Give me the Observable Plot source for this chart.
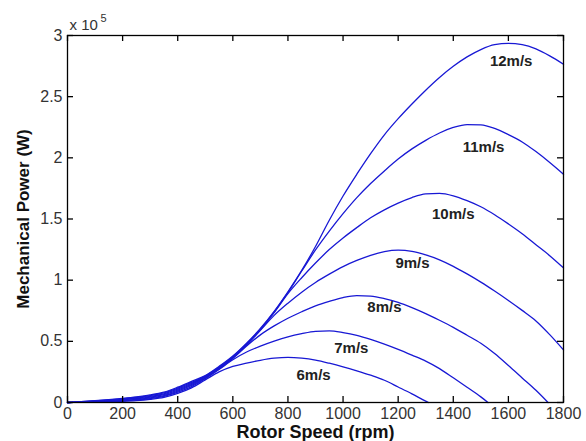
<!DOCTYPE html>
<html><head><meta charset="utf-8">
<script src="https://cdn.jsdelivr.net/npm/d3@7"></script>
<script src="https://cdn.jsdelivr.net/npm/@observablehq/plot@0.6"></script>
<style>html,body{margin:0;padding:0;background:#fff}svg{display:block}</style>
</head><body><div id="chart"></div>
<script>
// Wind speeds (series) and curve labels
const speeds = ["6m/s", "7m/s", "8m/s", "9m/s", "10m/s", "11m/s", "12m/s"];
// Rotor speed grid (rpm)
const rpm = [0, 50, 100, 150, 200, 250, 300, 350, 400, 450, 500, 550, 600, 650, 700, 750, 800, 850, 900, 950,
  1000, 1050, 1100, 1150, 1200, 1250, 1300, 1350, 1400, 1450, 1500, 1550, 1600, 1650, 1700, 1750, 1800];
// Mechanical power (x 10^5 W) per wind speed (null = curve has ended)
const p6 = [0, 0.001, 0.003, 0.006, 0.010, 0.016, 0.026, 0.042, 0.075, 0.12, 0.185, 0.25, 0.295, 0.322, 0.345, 0.362, 0.369, 0.362, 0.346, 0.321,
  0.292, 0.259, 0.223, 0.182, 0.127, 0.071, 0.011, null, null, null, null, null, null, null, null, null, null];
const p7 = [0, 0.002, 0.005, 0.009, 0.014, 0.021, 0.032, 0.050, 0.085, 0.13, 0.195, 0.27, 0.35, 0.413, 0.461, 0.502, 0.537, 0.563, 0.582, 0.586,
  0.572, 0.549, 0.516, 0.477, 0.434, 0.387, 0.338, 0.277, 0.202, 0.125, 0.046, null, null, null, null, null, null];
const p8 = [0, 0.003, 0.007, 0.012, 0.018, 0.026, 0.038, 0.057, 0.093, 0.14, 0.20, 0.275, 0.36, 0.462, 0.553, 0.626, 0.689, 0.742, 0.790, 0.827,
  0.858, 0.874, 0.870, 0.850, 0.819, 0.776, 0.727, 0.672, 0.614, 0.550, 0.484, 0.400, 0.302, 0.201, 0.100, null, null];
const p9 = [0, 0.004, 0.009, 0.015, 0.022, 0.031, 0.044, 0.064, 0.101, 0.148, 0.207, 0.28, 0.365, 0.47, 0.59, 0.712, 0.812, 0.902, 0.981, 1.049,
  1.111, 1.161, 1.203, 1.233, 1.245, 1.235, 1.206, 1.166, 1.113, 1.051, 0.984, 0.911, 0.834, 0.753, 0.667, 0.555, 0.430];
const p10 = [0, 0.005, 0.011, 0.018, 0.026, 0.036, 0.050, 0.071, 0.109, 0.156, 0.212, 0.285, 0.37, 0.475, 0.595, 0.735, 0.89, 1.02, 1.14, 1.25,
  1.345, 1.43, 1.51, 1.575, 1.63, 1.675, 1.705, 1.71, 1.69, 1.65, 1.60, 1.535, 1.46, 1.38, 1.29, 1.20, 1.10];
const p11 = [0, 0.006, 0.013, 0.021, 0.030, 0.041, 0.056, 0.078, 0.117, 0.164, 0.216, 0.29, 0.375, 0.48, 0.60, 0.74, 0.90, 1.075, 1.247, 1.401,
  1.544, 1.675, 1.790, 1.893, 1.990, 2.073, 2.143, 2.203, 2.248, 2.272, 2.269, 2.240, 2.190, 2.130, 2.051, 1.962, 1.866];
const p12 = [0, 0.007, 0.015, 0.024, 0.034, 0.046, 0.062, 0.085, 0.125, 0.172, 0.22, 0.295, 0.38, 0.485, 0.605, 0.745, 0.905, 1.08, 1.275, 1.49,
  1.688, 1.866, 2.034, 2.188, 2.320, 2.440, 2.553, 2.657, 2.748, 2.825, 2.885, 2.925, 2.935, 2.925, 2.89, 2.833, 2.765];
const powers = [p6, p7, p8, p9, p10, p11, p12];
// rpm where the curve reaches zero power (null = still positive at 1800)
const endRpm = [1310, 1526, 1744, null, null, null, null];
// label positions (rpm, power x10^5)
const labelRpm = [893, 1030, 1150, 1252, 1400, 1510, 1610];
const labelPower = [0.22, 0.44, 0.78, 1.14, 1.54, 2.09, 2.79];
// tick values
const xTicks = [0, 200, 400, 600, 800, 1000, 1200, 1400, 1600, 1800];
const yTicks = [0, 0.5, 1, 1.5, 2, 2.5, 3];

const data = [];
speeds.forEach((s, k) => {
  powers[k].forEach((v, i) => { if (v != null) data.push({speed: s, rpm: rpm[i], power: v}); });
  if (endRpm[k] != null) data.push({speed: s, rpm: endRpm[k], power: 0});
});
const labels = speeds.map((s, k) => ({text: s, rpm: labelRpm[k], power: labelPower[k]}));

const W = 586, H = 441, mL = 67, mR = 23, mT = 35, mB = 39;
const plotW = W - mL - mR, plotH = H - mT - mB, tickLen = 6;
const font = "Liberation Sans, Arial, Helvetica, sans-serif";
const tickStyle = {stroke: "#000", strokeWidth: 1.3};
const chart = Plot.plot({
  width: W, height: H,
  marginLeft: mL, marginRight: mR, marginTop: mT, marginBottom: mB,
  style: {fontFamily: font, background: "#fff", color: "#000"},
  x: {domain: [0, 1800]},
  y: {domain: [0, 3]},
  marks: [
    Plot.line(data, {x: "rpm", y: "power", z: "speed", stroke: "#1818d4", strokeWidth: 1.3, curve: "monotone-x"}),
    Plot.text(labels, {x: "rpm", y: "power", text: "text", fontSize: 15, fontWeight: "bold", fill: "#222"}),
    Plot.frame({stroke: "#000", strokeWidth: 1.3}),
    // inward tick marks on all four sides
    Plot.tickX(xTicks, {x: d => d, insetTop: plotH - tickLen, ...tickStyle}),
    Plot.tickX(xTicks, {x: d => d, insetBottom: plotH - tickLen, ...tickStyle}),
    Plot.tickY(yTicks, {y: d => d, insetRight: plotW - tickLen, ...tickStyle}),
    Plot.tickY(yTicks, {y: d => d, insetLeft: plotW - tickLen, ...tickStyle}),
    // tick labels
    Plot.axisX(xTicks, {anchor: "bottom", tickSize: 0, tickPadding: 5, fontSize: 16, fill: "#333", label: null, tickFormat: d => String(d)}),
    Plot.axisY(yTicks, {anchor: "left", tickSize: 0, tickPadding: 5, fontSize: 16, fill: "#333", label: null, tickFormat: d => String(d)}),
    Plot.text(["Rotor Speed (rpm)"], {frameAnchor: "bottom", dy: 30, fontSize: 18, fontWeight: "bold", fill: "#111", textAnchor: "middle", lineAnchor: "middle"}),
    Plot.text(["Mechanical Power (W)"], {frameAnchor: "left", dx: -44, rotate: -90, fontSize: 17, fontWeight: "bold", fill: "#111", textAnchor: "middle", lineAnchor: "middle"}),
    Plot.text(["x 10"], {frameAnchor: "top-left", dx: 2, dy: -10, textAnchor: "start", lineAnchor: "middle", fontSize: 15, fill: "#333"}),
    Plot.text(["5"], {frameAnchor: "top-left", dx: 33, dy: -17, textAnchor: "start", lineAnchor: "middle", fontSize: 11, fill: "#333"})
  ]
});
document.getElementById("chart").appendChild(chart);
</script>
</body></html>
